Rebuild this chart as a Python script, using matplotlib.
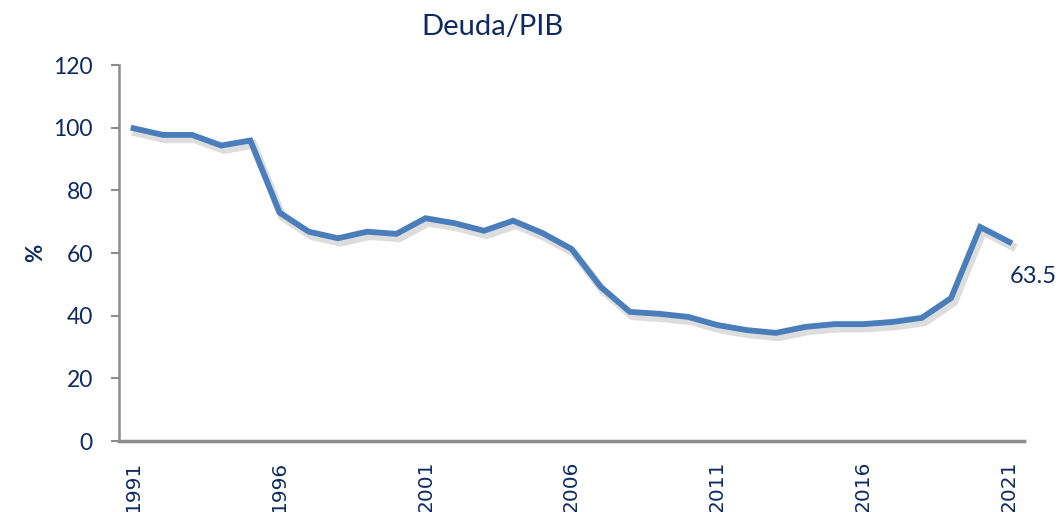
import matplotlib.pyplot as plt
import matplotlib.patheffects as pe
import numpy as np

# Deuda/PIB (%) 1991-2021
years = list(range(1991, 2022))
deuda_pib = [99.8, 97.7, 97.7, 94.3, 95.9, 72.9, 66.8, 64.7, 66.8, 66.1,
             71.1, 69.5, 67.1, 70.3, 66.4, 61.3, 49.2, 41.2, 40.6, 39.6,
             37.0, 35.4, 34.5, 36.4, 37.3, 37.3, 38.0, 39.3, 45.6, 68.3, 63.5]
yticks = [0, 20, 40, 60, 80, 100, 120]
xticks = [1991, 1996, 2001, 2006, 2011, 2016, 2021]

navy = "#0d2a62"
line_col = "#4a7ebb"
axis_col = "#8c8c8c"

plt.rcParams["font.family"] = ["Lato", "DejaVu Sans"]

fig = plt.figure(figsize=(10.63, 5.12), dpi=100)
ax = fig.add_axes([119 / 1063, 71 / 512, (1024 - 119) / 1063, (441 - 65) / 512])

ax.plot(years, deuda_pib, color=line_col, lw=4.2, solid_joinstyle="miter",
        path_effects=[pe.SimpleLineShadow(offset=(2, -3), shadow_color="#a0a0a0",
                                          alpha=0.35, linewidth=6),
                      pe.Normal()])

ax.set_xlim(1990.5, 2021.5)
ax.set_ylim(0, 120)
ax.set_yticks(yticks)
ax.set_xticks(xticks)
ax.set_xticklabels([str(x) for x in xticks], rotation=90, fontfamily="DejaVu Sans",
                   fontsize=14.5, color=navy, va="top")
ax.tick_params(axis="x", length=0, pad=14)
ax.tick_params(axis="y", length=5.8, width=1.5, color=axis_col, pad=13,
               labelsize=16.5, labelcolor=navy)

for s in ["top", "right"]:
    ax.spines[s].set_visible(False)
ax.spines["left"].set_color(axis_col)
ax.spines["left"].set_linewidth(1.8)
ax.spines["bottom"].set_color(axis_col)
ax.spines["bottom"].set_linewidth(2.5)

ax.set_ylabel("%", fontsize=16, fontweight="bold", color=navy, labelpad=5)

ax.annotate(f"{deuda_pib[-1]:.1f}", xy=(years[-1], deuda_pib[-1]),
            xytext=(17, -25), textcoords="offset points",
            ha="center", va="center", fontsize=17, color=navy,
            annotation_clip=False)

fig.text(493 / 1063, 1 - 27 / 512, "Deuda/PIB", ha="center", va="center",
         fontsize=21, color=navy)

plt.savefig("out.png", dpi=100)
